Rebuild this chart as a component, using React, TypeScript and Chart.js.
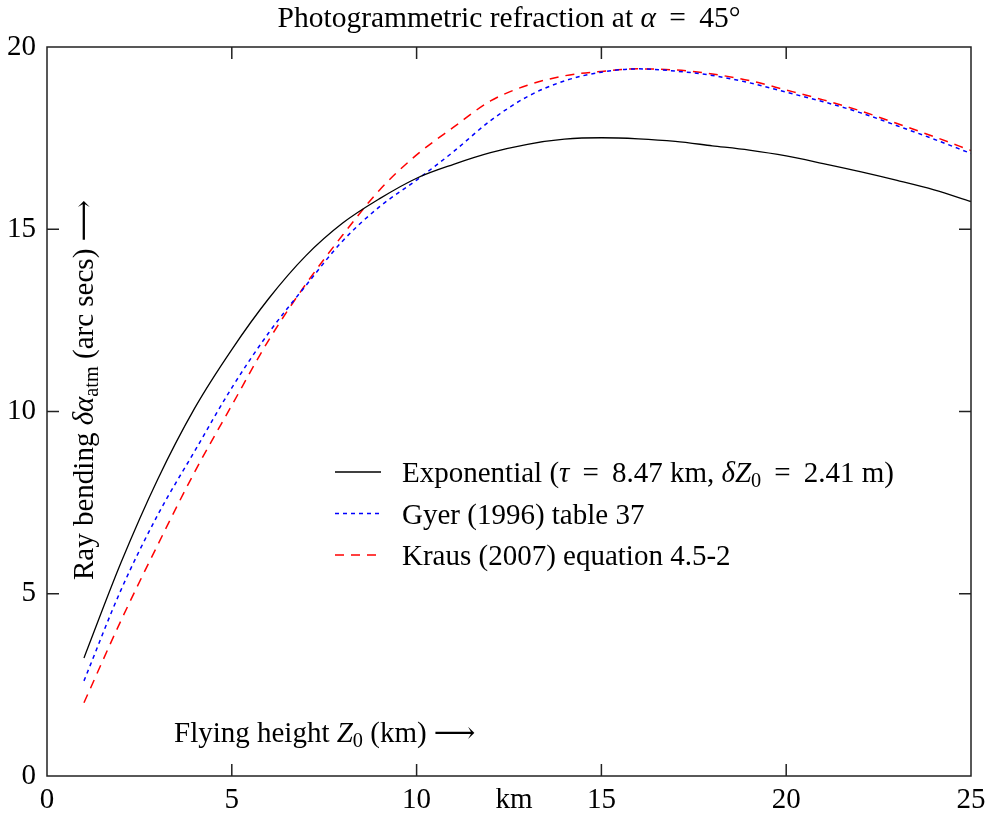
import React, { useEffect, useRef } from "react";
import { Chart, registerables } from "chart.js";

Chart.register(...registerables);

// ---------- data ----------
const heightsKm = [1, 2, 3, 4, 5, 6, 7, 8, 9, 10, 11, 12, 13, 14, 15, 16, 17, 18, 19, 20, 21, 22, 23, 24, 25];
const exponential = [3.24, 5.85, 8.15, 10.1, 11.7, 13.1, 14.27, 15.17, 15.84, 16.4, 16.78, 17.1, 17.33, 17.47, 17.51, 17.48, 17.41, 17.29, 17.17, 17.01, 16.8, 16.58, 16.34, 16.08, 15.76];
const gyer = [2.61, 5.1, 7.17, 8.92, 10.65, 12.16, 13.45, 14.68, 15.62, 16.35, 17.13, 17.98, 18.64, 19.07, 19.31, 19.4, 19.34, 19.22, 19.02, 18.76, 18.5, 18.2, 17.84, 17.47, 17.08];
const kraus = [2.01, 4.26, 6.35, 8.35, 10.17, 11.96, 13.49, 14.84, 16.08, 17.04, 17.8, 18.52, 18.95, 19.21, 19.33, 19.4, 19.37, 19.26, 19.08, 18.82, 18.55, 18.25, 17.9, 17.54, 17.16];

const xTicks = [0, 5, 10, 15, 20, 25];
const yTicks = [0, 5, 10, 15, 20];

const seriesLabels = [
  "Exponential (*τ* \u2009=\u2009 8.47 km, *δZ*_{0} \u2009=\u2009 2.41 m)",
  "Gyer (1996) table 37",
  "Kraus (2007) equation 4.5-2",
];
const titleText = "Photogrammetric refraction at *α* \u2009=\u2009 45°";
const xTitleText = "Flying height *Z*_{0} (km) ⟶";
const yTitleText = "Ray bending *δα*_{atm} (arc secs) ⟶";
const xUnitText = "km";

// ---------- styling ----------
const FAMILY = "'Liberation Serif', 'DejaVu Serif', serif";
const FS = 29;
const TITLE_FS = 29.5;
const TICK_PAD_X = 7;

type Seg = { t: string; it: boolean; sub: boolean };

function parseRich(s: string): Seg[] {
  const segs: Seg[] = [];
  let it = false;
  let buf = "";
  for (let i = 0; i < s.length; i++) {
    const c = s[i];
    if (c === "*") {
      if (buf) segs.push({ t: buf, it, sub: false });
      buf = "";
      it = !it;
      continue;
    }
    if (c === "_" && s[i + 1] === "{") {
      if (buf) segs.push({ t: buf, it, sub: false });
      buf = "";
      const j = s.indexOf("}", i);
      segs.push({ t: s.slice(i + 2, j), it: false, sub: true });
      i = j;
      continue;
    }
    buf += c;
  }
  if (buf) segs.push({ t: buf, it, sub: false });
  return segs;
}

function plain(s: string) {
  return s.replace(/\*/g, "").replace(/_\{([^}]*)\}/g, "$1").replace(/\u2009/g, "");
}

function segFont(seg: Seg, size: number) {
  const sz = seg.sub ? size * 0.7 : size;
  return `${seg.it ? "italic " : ""}${sz}px ${FAMILY}`;
}

function measureRich(ctx: CanvasRenderingContext2D, segs: Seg[], size: number) {
  let w = 0;
  for (const s of segs) {
    ctx.font = segFont(s, size);
    w += ctx.measureText(s.t).width;
  }
  return w;
}

function drawRich(ctx: CanvasRenderingContext2D, text: string, x: number, y: number, size: number, align: "left" | "center" = "left") {
  const segs = parseRich(text);
  let cx = x;
  if (align === "center") cx = x - measureRich(ctx, segs, size) / 2;
  ctx.textAlign = "left";
  ctx.textBaseline = "alphabetic";
  for (const s of segs) {
    ctx.font = segFont(s, size);
    ctx.fillText(s.t, cx, s.sub ? y + size * 0.17 : y);
    cx += ctx.measureText(s.t).width;
  }
}

const decorPlugin = {
  id: "decor",
  afterDatasetsDraw(chart: any) {
    const { ctx, chartArea: a, scales } = chart;
    ctx.save();
    ctx.strokeStyle = "#222";
    ctx.lineWidth = 1.5;
    ctx.setLineDash([]);
    ctx.strokeRect(a.left, a.top, a.right - a.left, a.bottom - a.top);
    const TL = 12;
    ctx.beginPath();
    for (const v of xTicks) {
      if (v === scales.x.min || v === scales.x.max) continue;
      const px = scales.x.getPixelForValue(v);
      ctx.moveTo(px, a.bottom);
      ctx.lineTo(px, a.bottom - TL);
      ctx.moveTo(px, a.top);
      ctx.lineTo(px, a.top + TL);
    }
    for (const v of yTicks) {
      if (v === scales.y.min || v === scales.y.max) continue;
      const py = scales.y.getPixelForValue(v);
      ctx.moveTo(a.left, py);
      ctx.lineTo(a.left + TL, py);
      ctx.moveTo(a.right, py);
      ctx.lineTo(a.right - TL, py);
    }
    ctx.stroke();
    ctx.restore();
  },
  afterDraw(chart: any) {
    const { ctx, chartArea: a, scales } = chart;
    ctx.save();
    ctx.fillStyle = "#000";
    // title
    drawRich(ctx, titleText, (a.left + a.right) / 2, 27, TITLE_FS, "center");
    // x title (inside plot)
    drawRich(ctx, xTitleText, 174, 742, FS);
    // y title (rotated, inside plot)
    ctx.save();
    ctx.translate(93, 580);
    ctx.rotate(-Math.PI / 2);
    drawRich(ctx, yTitleText, 0, 0, FS);
    ctx.restore();
    // "km" unit label in the tick row
    ctx.font = `${FS}px ${FAMILY}`;
    ctx.textAlign = "center";
    ctx.textBaseline = "middle";
    ctx.fillText(xUnitText, 514, scales.x.top + TICK_PAD_X + (FS * 1.2) / 2);
    // legend
    const lineX0 = 335, lineX1 = 381, textX = 402, base0 = 482, gap = 41.5;
    chart.data.datasets.forEach((ds: any, i: number) => {
      const yb = base0 + i * gap;
      ctx.save();
      ctx.strokeStyle = ds.borderColor;
      ctx.lineWidth = ds.borderWidth;
      ctx.setLineDash(ds.borderDash || []);
      ctx.beginPath();
      ctx.moveTo(lineX0, yb - 10);
      ctx.lineTo(lineX1, yb - 10);
      ctx.stroke();
      ctx.restore();
      ctx.fillStyle = "#000";
      drawRich(ctx, seriesLabels[i], textX, yb, FS);
    });
    ctx.restore();
  },
};

export default function App() {
  const ref = useRef<HTMLCanvasElement | null>(null);
  useEffect(() => {
    if (!ref.current) return;
    const mk = (vals: number[]) => heightsKm.map((x, i) => ({ x, y: vals[i] }));
    const tickFont = { family: FAMILY, size: FS };
    const chart = new Chart(ref.current, {
      type: "line",
      data: {
        datasets: [
          { label: plain(seriesLabels[0]), data: mk(exponential), borderColor: "#000000", borderWidth: 1.3, borderDash: [], cubicInterpolationMode: "monotone", pointRadius: 0 },
          { label: plain(seriesLabels[1]), data: mk(gyer), borderColor: "#0000ff", borderWidth: 1.5, borderDash: [4, 4], cubicInterpolationMode: "monotone", pointRadius: 0 },
          { label: plain(seriesLabels[2]), data: mk(kraus), borderColor: "#ff0000", borderWidth: 1.5, borderDash: [9, 7], cubicInterpolationMode: "monotone", pointRadius: 0 },
        ],
      } as any,
      options: {
        responsive: false,
        animation: false,
        layout: { padding: { top: 47, right: 16, left: 0, bottom: 0 } },
        plugins: { legend: { display: false }, title: { display: false }, tooltip: { enabled: false } },
        scales: {
          x: {
            type: "linear",
            min: 0,
            max: 25,
            afterBuildTicks: (s: any) => { s.ticks = xTicks.map((v) => ({ value: v })); },
            afterFit: (s: any) => { s.height = 37; s.paddingLeft = 0; s.paddingRight = 0; },
            grid: { display: false, drawTicks: false },
            border: { display: false },
            ticks: { font: tickFont, color: "#000", padding: TICK_PAD_X, maxRotation: 0, autoSkip: false },
          },
          y: {
            type: "linear",
            min: 0,
            max: 20,
            afterBuildTicks: (s: any) => { s.ticks = yTicks.map((v) => ({ value: v })); },
            afterFit: (s: any) => { s.width = 47; s.paddingTop = 0; s.paddingBottom = 0; },
            grid: { display: false, drawTicks: false },
            border: { display: false },
            ticks: { font: tickFont, color: "#000", padding: 11, autoSkip: false },
          },
        },
      } as any,
      plugins: [decorPlugin],
    });
    return () => chart.destroy();
  }, []);
  return (
    <div style={{ position: "absolute", left: 0, top: 0, width: 987, height: 813, background: "#fff" }}>
      <canvas ref={ref} width={987} height={813} style={{ display: "block" }} />
    </div>
  );
}
